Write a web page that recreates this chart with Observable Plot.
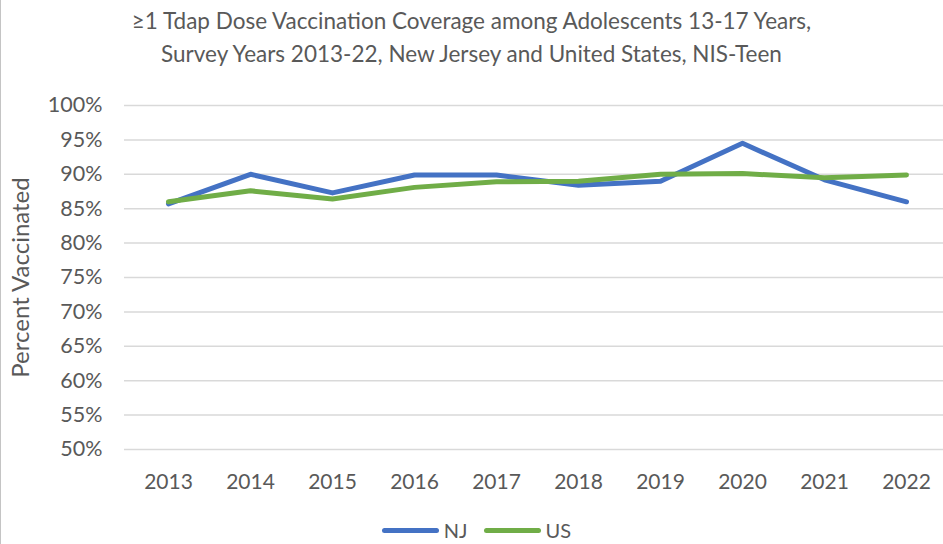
<!DOCTYPE html>
<html>
<head>
<meta charset="utf-8">
<script src="https://cdn.jsdelivr.net/npm/d3@7"></script>
<script src="https://cdn.jsdelivr.net/npm/@observablehq/plot@0.6"></script>
<style>
  html, body { margin: 0; padding: 0; background: #fff; }
  #wrap { position: relative; width: 943px; height: 544px; overflow: hidden; font-family: Lato, "Open Sans", sans-serif; color: #595959; }
  #border { position: absolute; left: 0; top: 0; width: 1px; height: 544px; background: #c4c4c4; }
  #title { position: absolute; left: 0; top: 0; width: 943px; height: 80px; box-sizing: border-box; padding-top: 4px; text-align: center; font-size: 22.5px; line-height: 33px; }
  #chart { position: absolute; left: 0; top: 80px; }
  #legend { position: absolute; left: 0; top: 519px; width: 943px; display: flex; justify-content: center; align-items: center; font-size: 20px; line-height: 22px; padding-left: 10px; box-sizing: border-box; }
  .item { display: flex; align-items: center; margin: 0 8px; }
  .sw { width: 57px; height: 5px; border-radius: 3px; margin-right: 5px; }
</style>
</head>
<body>
<div id="wrap">
  <div id="border"></div>
  <div id="title"></div>
  <div id="chart"></div>
  <div id="legend"></div>
</div>
<script>
const titleLines = ["≥1 Tdap Dose Vaccination Coverage among Adolescents 13-17 Years,", "Survey Years 2013-22, New Jersey and United States, NIS-Teen"];
const years = ["2013", "2014", "2015", "2016", "2017", "2018", "2019", "2020", "2021", "2022"];
const seriesNames = ["NJ", "US"];
const njValues = [85.7, 90.0, 87.3, 89.9, 89.9, 88.4, 89.0, 94.5, 89.2, 86.0];
const usValues = [86.0, 87.6, 86.4, 88.1, 88.9, 89.0, 90.0, 90.1, 89.5, 89.9];
const yTicks = [50, 55, 60, 65, 70, 75, 80, 85, 90, 95, 100];
const yLabel = "Percent Vaccinated";
const colors = ["#4472C4", "#70AD47"];

document.getElementById("title").innerHTML = titleLines.map(t => `<div>${t}</div>`).join("");

const data = [];
years.forEach((y, i) => data.push({year: y, series: "NJ", value: njValues[i]}));
years.forEach((y, i) => data.push({year: y, series: "US", value: usValues[i]}));

const chart = Plot.plot({
  width: 943,
  height: 425,
  marginTop: 25,
  marginBottom: 56,
  marginLeft: 124,
  marginRight: 0,
  style: {fontFamily: "Lato, 'Open Sans', sans-serif", fontSize: "21px", color: "#595959", background: "transparent"},
  x: {type: "point", domain: years, range: [165, 908], padding: 0},
  y: {domain: [50, 100]},
  color: {domain: seriesNames, range: colors},
  marks: [
    Plot.gridY(yTicks, {stroke: "#d9d9d9", strokeOpacity: 1, strokeWidth: 1.5}),
    Plot.axisY(yTicks, {tickSize: 0, tickPadding: 22, tickFormat: d => d + "%", label: null, fill: "#595959", fontSize: 21.5}),
    Plot.axisX(years, {tickSize: 0, tickPadding: 25, label: null, fill: "#595959", fontSize: 21}),
    Plot.text([yLabel], {frameAnchor: "left", textAnchor: "middle", rotate: -90, dx: -103, fill: "#595959", fontSize: 24}),
    Plot.line(data, {x: "year", y: "value", stroke: "series", strokeWidth: 5, strokeLinejoin: "round", strokeLinecap: "round"})
  ]
});
document.getElementById("chart").appendChild(chart);

document.getElementById("legend").innerHTML = seriesNames.map((s, i) =>
  `<div class="item"><div class="sw" style="background:${colors[i]}"></div><span>${s}</span></div>`).join("");
</script>
</body>
</html>
